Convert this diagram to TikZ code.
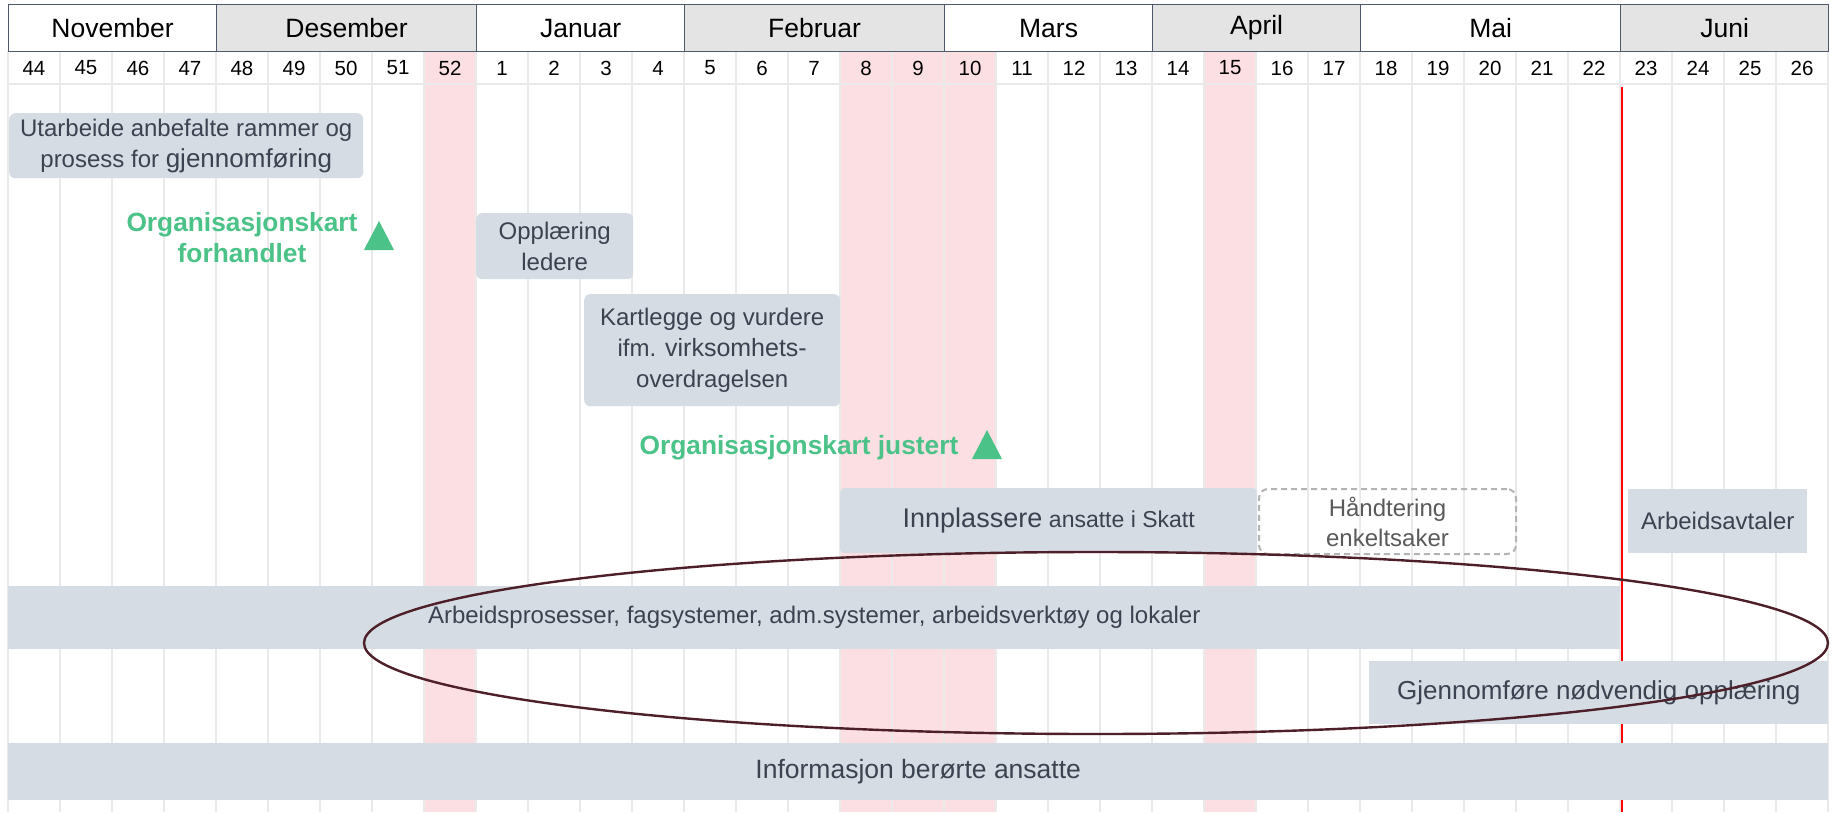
\documentclass[tikz,border=0pt]{standalone}
\usepackage{fontspec}
\setmainfont{Liberation Sans}
\usetikzlibrary{shapes.geometric}
\definecolor{barfill}{HTML}{D6DCE4}
\definecolor{bartext}{HTML}{3B4250}
\definecolor{gridc}{HTML}{EAEAEA}
\definecolor{pinkc}{HTML}{FCDFE3}
\definecolor{hdrgray}{HTML}{E4E4E4}
\definecolor{hdrline}{HTML}{4E5A6A}
\definecolor{msgreen}{HTML}{4BC287}
\definecolor{ellc}{HTML}{4D1F28}
\definecolor{dashc}{HTML}{B4B4B4}
\definecolor{dashtext}{HTML}{5A5A5A}
\newcommand\fsz[2]{\fontsize{#1}{#2}\selectfont}
\tikzset{
  monthcell/.style={draw=hdrline, line width=1.2pt, inner sep=0pt, font=\fsz{26.5}{30}, text=black},
  weeklabel/.style={inner sep=0pt, font=\fsz{20.5}{24}, text=black},
  bar/.style={fill=barfill, inner sep=0pt, anchor=north west, text=bartext, align=center, font=\fsz{24}{31}},
  roundbar/.style={bar, rounded corners=6pt},
  dashbar/.style={draw=dashc, dashed, dash pattern=on 6pt off 4pt, line width=2pt, rounded corners=9pt, inner sep=0pt, anchor=north west, text=dashtext, align=center, font=\fsz{24}{30}},
  milestone/.style={text=msgreen, font=\bfseries\fsz{26.3}{31}, align=center, inner sep=0pt},
  gridline/.style={draw=gridc, line width=1.2pt},
}
\begin{document}
\begin{tikzpicture}[x=1pt, y=-1pt]
\useasboundingbox (0,0) rectangle (1832,812);
\fill[white] (0,0) rectangle (1832,812);
% pink highlight columns
\foreach \i in {8,16,17,18,23} {
  \fill[pinkc] ({8+52*\i},51) rectangle ({8+52*(\i+1)},812);
}
% grid lines
\foreach \i in {1,...,34} {
  \draw[gridline] ({8+52*\i},51) -- ({8+52*\i},812);
}
\draw[gridline] (8,51) -- (8,812);
\draw[gridline] (1828,51) -- (1828,812);
\draw[gridline] (8,84) -- (1828,84);
% week labels
\foreach \w [count=\i from 0] in {44,45,46,47,48,49,50,51,52,1,2,3,4,5,6,7,8,9,10,11,12,13,14,15,16,17,18,19,20,21,22,23,24,25,26} {
  \node[weeklabel] (wk\i) at ({8+52*\i+26},68) {\w};
}
% month header
\node[monthcell, fill=white, minimum width=208pt, minimum height=47pt, anchor=north west] (mNov) at (8,4) {November};
\node[monthcell, fill=hdrgray, minimum width=260pt, minimum height=47pt, anchor=north west] (mDes) at (216,4) {Desember};
\node[monthcell, fill=white, minimum width=208pt, minimum height=47pt, anchor=north west] (mJan) at (476,4) {Januar};
\node[monthcell, fill=hdrgray, minimum width=260pt, minimum height=47pt, anchor=north west] (mFeb) at (684,4) {Februar};
\node[monthcell, fill=white, minimum width=208pt, minimum height=47pt, anchor=north west] (mMar) at (944,4) {Mars};
\node[monthcell, fill=hdrgray, minimum width=208pt, minimum height=47pt, anchor=north west] (mApr) at (1152,4) {April};
\node[monthcell, fill=white, minimum width=260pt, minimum height=47pt, anchor=north west] (mMai) at (1360,4) {Mai};
\node[monthcell, fill=hdrgray, minimum width=208pt, minimum height=47pt, anchor=north west] (mJun) at (1620,4) {Juni};
% red today line
\coordinate (redtop) at (1622,87);
\coordinate (redbot) at (1622,812);
\draw[red, line width=1.8pt] (redtop) -- (redbot);
% bars
\node[roundbar, minimum width=354pt, minimum height=65pt] (utarb) at (9,113)
  {Utarbeide anbefalte rammer og\\prosess for {\fsz{26}{31}gjennomføring}};
\node[roundbar, minimum width=157pt, minimum height=66pt] (oppl) at (476,213)
  {Opplæring\\ledere};
\node[roundbar, minimum width=256pt, minimum height=112pt] (kartl) at (584,294)
  {Kartlegge og vurdere\\ifm. {\fsz{25}{31}virksomhets-}\\overdragelsen};
\node[bar, rounded corners=4pt, minimum width=417pt, minimum height=65pt] (innpl) at (840,488)
  {{\fsz{27}{32}Innplassere} {\fsz{23}{28}ansatte i Skatt}};
\node[dashbar, minimum width=257pt, minimum height=65pt] (handt) at (1258,488)
  {Håndtering\\enkeltsaker};
\node[bar, minimum width=179pt, minimum height=64pt] (avtal) at (1628,489)
  {Arbeidsavtaler};
\node[bar, minimum width=1612pt, minimum height=63pt, font=\fsz{24}{28}] (arbpr) at (8,586)
  {Arbeidsprosesser, fagsystemer, adm.systemer, arbeidsverktøy og lokaler};
\node[bar, minimum width=459pt, minimum height=63pt, font=\fsz{26}{31}] (gjenn) at (1369,661)
  {Gjennomføre nødvendig opplæring};
\node[bar, minimum width=1820pt, minimum height=57pt, font=\fsz{26.5}{31}] (info) at (8,743)
  {Informasjon berørte ansatte};
% milestones
\node[milestone] (ms1) at (242,238) {Organisasjonskart\\forhandlet};
\coordinate (tri1) at (379,221);
\fill[msgreen] (tri1) -- ++(15,29) -- ++(-30,0) -- cycle;
\node[milestone] (ms2) at (799,448) {Organisasjonskart justert};
\coordinate (tri2) at (987,430);
\fill[msgreen] (tri2) -- ++(15,29) -- ++(-30,0) -- cycle;
% ellipse
\coordinate (ellc0) at (1096,643);
\draw[ellc, line width=2.4pt] (ellc0) ellipse [x radius=732pt, y radius=91pt];
\end{tikzpicture}
\end{document}
